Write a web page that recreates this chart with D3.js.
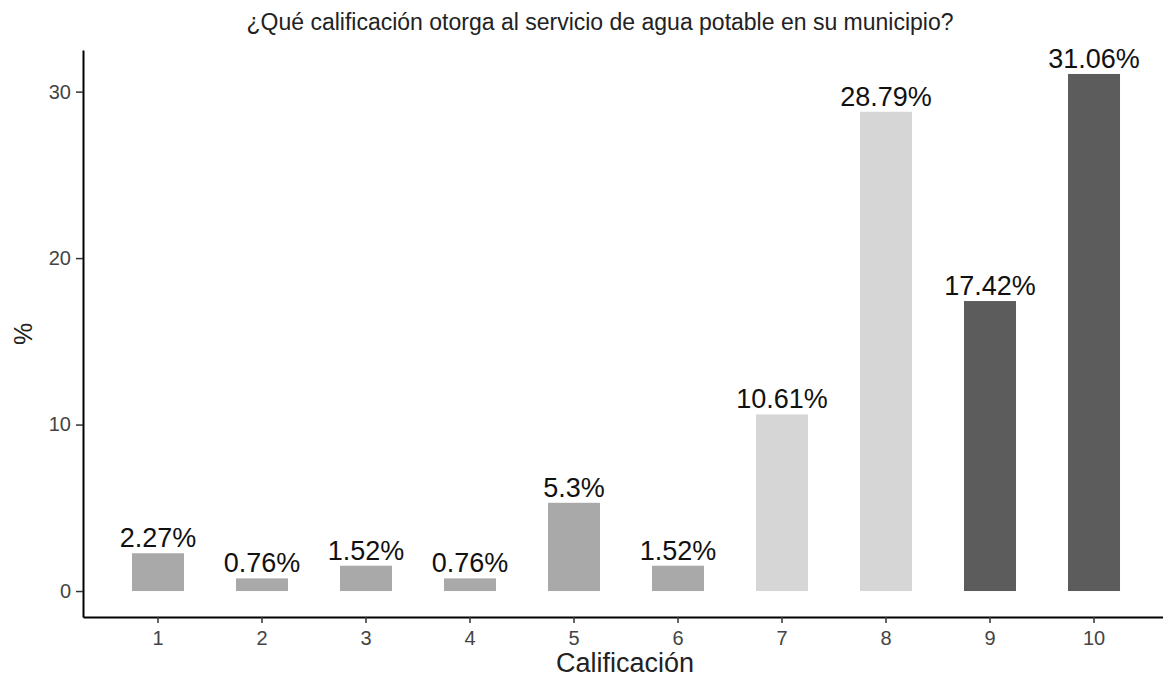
<!DOCTYPE html>
<html>
<head>
<meta charset="utf-8">
<script src="https://cdn.jsdelivr.net/npm/d3@7"></script>
<style>
html,body{margin:0;padding:0;background:#fff;}
svg{display:block;font-family:"Liberation Sans",Arial,sans-serif;}
</style>
</head>
<body>
<svg id="chart" width="1163" height="681"></svg>
<script>
const categories = ["1","2","3","4","5","6","7","8","9","10"];
const values = [2.27, 0.76, 1.52, 0.76, 5.3, 1.52, 10.61, 28.79, 17.42, 31.06];
const labels = ["2.27%","0.76%","1.52%","0.76%","5.3%","1.52%","10.61%","28.79%","17.42%","31.06%"];
const groups = ["low","low","low","low","low","low","mid","mid","high","high"];
const yTicks = [0, 10, 20, 30];
const title = "¿Qué calificación otorga al servicio de agua potable en su municipio?";

const colors = {low:"#a9a9a9", mid:"#d6d6d6", high:"#5c5c5c"};

const svg = d3.select("#chart");
const axisX0 = 83, axisYBottom = 617, axisYTop = 50;

const y = d3.scaleLinear().domain([-1.56, 32.5]).range([axisYBottom, axisYTop]);
const x = d3.scaleBand().domain(categories).range([axisX0, 1169])
  .paddingInner(0.5).paddingOuter(0.471);

// bars
svg.append("g").selectAll("rect").data(values).enter().append("rect")
  .attr("x", (d,i) => x(categories[i]))
  .attr("width", x.bandwidth())
  .attr("y", d => y(d))
  .attr("height", d => y(0) - y(d))
  .attr("fill", (d,i) => colors[groups[i]]);

// labels
svg.append("g").selectAll("text").data(values).enter().append("text")
  .attr("x", (d,i) => x(categories[i]) + x.bandwidth()/2)
  .attr("y", d => y(d) - 6)
  .attr("text-anchor","middle")
  .attr("font-size", 27)
  .attr("fill","#111")
  .text((d,i) => labels[i]);

// y axis
const yAxis = d3.axisLeft(y).tickValues(yTicks).tickSize(7).tickPadding(5).tickSizeOuter(0);
const gy = svg.append("g").attr("transform",`translate(${axisX0},0)`).call(yAxis);
gy.select(".domain").attr("stroke","#000").attr("stroke-width",2);
gy.selectAll(".tick line").attr("stroke","#333").attr("stroke-width",1.5);
gy.selectAll(".tick text").attr("font-size",20).attr("fill","#444").attr("font-family","Liberation Sans, Arial, sans-serif");

// x axis
const xAxis = d3.axisBottom(x).tickSize(6).tickPadding(8).tickSizeOuter(0);
const gx = svg.append("g").attr("transform",`translate(0,${axisYBottom})`).call(xAxis);
gx.select(".domain").attr("stroke","#000").attr("stroke-width",2);
gx.selectAll(".tick line").attr("stroke","#333").attr("stroke-width",1.5);
gx.selectAll(".tick text").attr("font-size",20).attr("fill","#444").attr("font-family","Liberation Sans, Arial, sans-serif");

// titles
svg.append("text").attr("x", 600).attr("y", 30).attr("text-anchor","middle")
  .attr("font-size",23).attr("fill","#222").text(title);
svg.append("text").attr("x", 625).attr("y", 672).attr("text-anchor","middle")
  .attr("font-size",27).attr("fill","#222").text("Calificación");
svg.append("text").attr("transform","translate(32,334) rotate(-90)").attr("text-anchor","middle")
  .attr("font-size",25).attr("fill","#222").text("%");
</script>
</body>
</html>
